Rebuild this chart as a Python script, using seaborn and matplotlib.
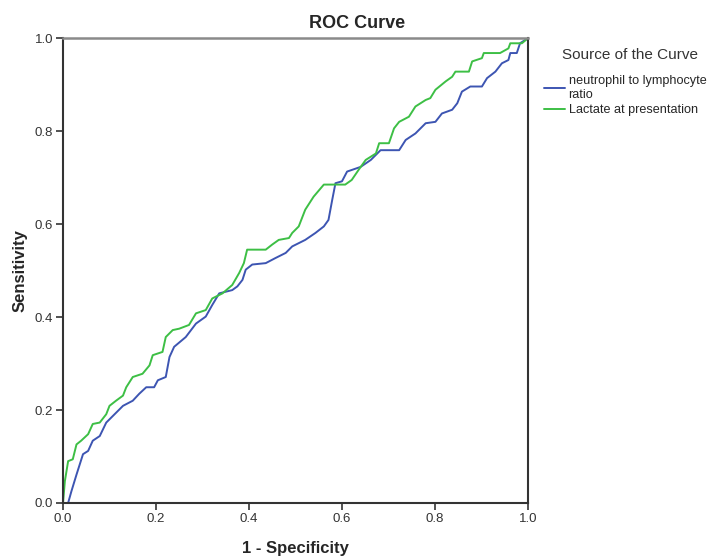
import pandas as pd
import numpy as np
import seaborn as sns
import matplotlib.pyplot as plt

# values
nlr_fpr = [0.0, 0.011, 0.018, 0.029, 0.043, 0.054, 0.064, 0.079, 0.093, 0.111, 0.129, 0.15,
           0.164, 0.179, 0.196, 0.204, 0.221, 0.229, 0.239, 0.264, 0.286, 0.307, 0.321, 0.336,
           0.364, 0.375, 0.386, 0.393, 0.407, 0.436, 0.457, 0.479, 0.493, 0.521, 0.543, 0.561,
           0.571, 0.579, 0.586, 0.6, 0.611, 0.64, 0.662, 0.683, 0.723, 0.737, 0.758, 0.78,
           0.801, 0.815, 0.837, 0.848, 0.858, 0.876, 0.901, 0.912, 0.93, 0.944, 0.958, 0.962,
           0.976, 0.983, 1.0]
nlr_tpr = [0.0, 0.0, 0.025, 0.061, 0.105, 0.112, 0.134, 0.144, 0.173, 0.191, 0.209, 0.22,
           0.235, 0.249, 0.249, 0.264, 0.271, 0.314, 0.336, 0.357, 0.386, 0.401, 0.426, 0.451,
           0.458, 0.466, 0.48, 0.502, 0.513, 0.516, 0.527, 0.538, 0.552, 0.566, 0.581, 0.595,
           0.609, 0.652, 0.688, 0.692, 0.713, 0.723, 0.738, 0.759, 0.759, 0.781, 0.795, 0.817,
           0.82, 0.838, 0.846, 0.86, 0.885, 0.896, 0.896, 0.914, 0.928, 0.946, 0.953, 0.968,
           0.968, 0.989, 1.0]

lac_fpr = [0.0, 0.004, 0.011, 0.021, 0.029, 0.039, 0.054, 0.064, 0.079, 0.093, 0.1, 0.114,
           0.129, 0.136, 0.15, 0.171, 0.186, 0.193, 0.214, 0.221, 0.236, 0.25, 0.271, 0.286,
           0.307, 0.321, 0.343, 0.364, 0.379, 0.389, 0.396, 0.436, 0.45, 0.464, 0.486, 0.493,
           0.507, 0.521, 0.539, 0.561, 0.607, 0.621, 0.636, 0.651, 0.673, 0.68, 0.701, 0.712,
           0.723, 0.744, 0.758, 0.78, 0.79, 0.801, 0.823, 0.837, 0.844, 0.873, 0.88, 0.901,
           0.905, 0.94, 0.958, 0.962, 0.987, 1.0]
lac_tpr = [0.0, 0.047, 0.09, 0.094, 0.126, 0.134, 0.148, 0.17, 0.173, 0.191, 0.209, 0.22,
           0.231, 0.249, 0.271, 0.278, 0.296, 0.318, 0.325, 0.357, 0.372, 0.375, 0.383, 0.408,
           0.415, 0.44, 0.451, 0.469, 0.495, 0.516, 0.545, 0.545, 0.556, 0.566, 0.57, 0.581,
           0.595, 0.631, 0.659, 0.685, 0.685, 0.695, 0.717, 0.738, 0.752, 0.774, 0.774, 0.806,
           0.82, 0.831, 0.853, 0.867, 0.871, 0.889, 0.907, 0.917, 0.928, 0.928, 0.95, 0.957,
           0.968, 0.968, 0.978, 0.989, 0.989, 1.0]

series_names = ["neutrophil to lymphocyte\nratio", "Lactate at presentation"]
colors = ["#3d55b2", "#3dbf45"]

df = pd.concat([
    pd.DataFrame({"fpr": nlr_fpr, "tpr": nlr_tpr, "curve": series_names[0]}),
    pd.DataFrame({"fpr": lac_fpr, "tpr": lac_tpr, "curve": series_names[1]}),
])

sns.set_style("white")
plt.rcParams['font.family'] = ['Liberation Sans', 'DejaVu Sans']

fig = plt.figure(figsize=(7.12, 5.58), dpi=100)
ax = fig.add_axes([0.0885, 0.0986, 0.653, 0.833])

sns.lineplot(data=df, x="fpr", y="tpr", hue="curve", hue_order=series_names,
             palette=colors, sort=False, estimator=None, linewidth=1.4, ax=ax)

ax.set_xlim(0, 1)
ax.set_ylim(0, 1)
ticks = [0.0, 0.2, 0.4, 0.6, 0.8, 1.0]
ax.set_xticks(ticks)
ax.set_yticks(ticks)
ax.set_xticklabels([f"{t:.1f}" for t in ticks])
ax.set_yticklabels([f"{t:.1f}" for t in ticks])
ax.tick_params(axis="both", direction="out", length=5, width=1.2, color="#333333",
               labelsize=9.5, labelcolor="#333333", pad=2,
               bottom=True, left=True)

for side in ["left", "bottom", "right"]:
    ax.spines[side].set_color("#333333")
    ax.spines[side].set_linewidth(1.5)
ax.spines["top"].set_color("#8a8a8a")
ax.spines["top"].set_linewidth(1.8)

ax.set_xlabel("1 - Specificity", fontsize=12, fontweight="bold", labelpad=12)
ax.set_ylabel("Sensitivity", fontsize=12, fontweight="bold", labelpad=5)
fig.text(0.502, 0.958, "ROC Curve", ha="center", va="center", fontsize=13, fontweight="bold")

# legend title drawn separately so the gap to the entries matches
fig.text(0.79, 0.901, "Source of the Curve", ha="left", va="center",
         fontsize=11, color="#333333")
handles, labels = ax.get_legend_handles_labels()
ax.legend(handles, labels, loc="upper left",
          bbox_to_anchor=(0.764, 0.866), bbox_transform=fig.transFigure,
          frameon=False, fontsize=9.1, handlelength=1.7,
          handletextpad=0.25, labelspacing=0.3, borderaxespad=0, borderpad=0)

fig.savefig("out.png", dpi=100)
plt.close(fig)
